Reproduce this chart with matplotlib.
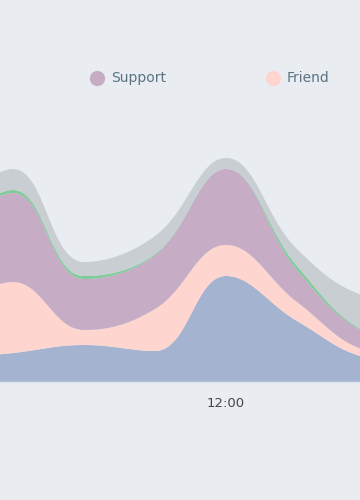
import numpy as np
import matplotlib.pyplot as plt
from matplotlib.lines import Line2D

# hours of day, stacked series values (bottom -> top)
hours = [4, 6, 8, 10, 12, 14, 16, 18]
base = [22, 29, 37, 31, 106, 61, 24, 18]
friend = [42, 71, 15, 42, 31, 19, 7, 6]
support = [80, 89, 51, 54, 76, 32, 17, 12]
other = [3, 3, 3, 1, 0, 4, 1, 1]
rest = [17, 21, 14, 18, 11, 17, 36, 40]

tick_hours = [12]
tick_labels = ["12:00"]

bg = "#e9edf1"
colors = ["#a3b3d0", "#fed5cf", "#c6adc5", "#7fcb99", "#c8ced1"]

PX_PER_HOUR = 35.5  # y values are already in pixel-ish units


def smooth_line(xs, ys, smooth=0.4, n=60):
    # bezier smoothing, control points clamped between neighbours
    px = [x * PX_PER_HOUR for x in xs]
    py = list(ys)
    out_x, out_y = [px[0]], [py[0]]
    cpx0, cpy0 = px[0], py[0]
    t = np.linspace(0, 1, n)[1:]
    for i in range(1, len(px)):
        x, y = px[i], py[i]
        prev_x, prev_y = px[i - 1], py[i - 1]
        if i == len(px) - 1:
            cpx1, cpy1 = x, y
            ncpx0, ncpy0 = x, y
        else:
            next_x, next_y = px[i + 1], py[i + 1]
            vx, vy = next_x - prev_x, next_y - prev_y
            len_prev = np.hypot(x - prev_x, y - prev_y)
            len_next = np.hypot(next_x - x, next_y - y)
            ratio = len_next / (len_next + len_prev)
            ncpx0 = x + vx * smooth * ratio
            ncpy0 = y + vy * smooth * ratio
            ncpx0 = max(min(ncpx0, max(next_x, x)), min(next_x, x))
            ncpy0 = max(min(ncpy0, max(next_y, y)), min(next_y, y))
            vx, vy = ncpx0 - x, ncpy0 - y
            cpx1 = x - vx * len_prev / len_next
            cpy1 = y - vy * len_prev / len_next
            cpx1 = max(min(cpx1, max(prev_x, x)), min(prev_x, x))
            cpy1 = max(min(cpy1, max(prev_y, y)), min(prev_y, y))
            vx, vy = x - cpx1, y - cpy1
            ncpx0 = x + vx * len_next / len_prev
            ncpy0 = y + vy * len_next / len_prev
        bx = ((1 - t) ** 3 * prev_x + 3 * (1 - t) ** 2 * t * cpx0
              + 3 * (1 - t) * t ** 2 * cpx1 + t ** 3 * x)
        by = ((1 - t) ** 3 * prev_y + 3 * (1 - t) ** 2 * t * cpy0
              + 3 * (1 - t) * t ** 2 * cpy1 + t ** 3 * y)
        out_x.extend(bx)
        out_y.extend(by)
        cpx0, cpy0 = ncpx0, ncpy0
    return np.array(out_x) / PX_PER_HOUR, np.array(out_y)


fig = plt.figure(figsize=(3.6, 5), dpi=100, facecolor=bg)
ax = fig.add_axes([0, 0.236, 1, 0.564])
ax.set_facecolor(bg)

grid = np.linspace(hours[0], hours[-1], 1500)
layers = [base, friend, support, other, rest]
cum = np.cumsum(np.array(layers, float), axis=0)
lower = np.zeros_like(grid)
for row, c in zip(cum, colors):
    sx, sy = smooth_line(hours, row)
    upper = np.maximum(np.interp(grid, sx, sy), lower)
    ax.fill_between(grid, lower, upper, color=c, lw=0)
    lower = upper

# 12:00 sits at x=226 px
ax.set_xlim(12 - 226 / PX_PER_HOUR, 12 + 134 / PX_PER_HOUR)
ax.set_ylim(0, 282)
for s in ["top", "left", "right"]:
    ax.spines[s].set_visible(False)
ax.spines["bottom"].set_color("#dde3ec")
ax.spines["bottom"].set_linewidth(1)
ax.set_yticks([])
ax.set_xticks(tick_hours)
ax.set_xticklabels(tick_labels)
ax.tick_params(axis="x", length=0, pad=11, labelsize=9.5, labelcolor="#444444")

# legend (only two entries fall inside the view)
for mx, tx, label, c in [(97, 111, "Support", colors[2]), (273, 287, "Friend", colors[1])]:
    fig.add_artist(Line2D([mx / 360], [1 - 78 / 500], marker="o", markersize=10,
                          color=c, transform=fig.transFigure))
    fig.text(tx / 360, 1 - 78 / 500, label, va="center", ha="left",
             fontsize=10, color="#5b7381")

fig.savefig("out.png", dpi=100, facecolor=bg)
